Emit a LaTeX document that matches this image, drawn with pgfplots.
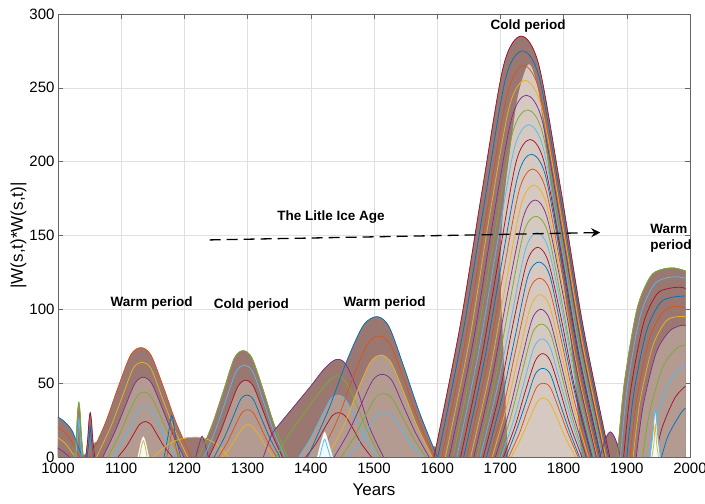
\documentclass[border=0pt]{standalone}
\usepackage{fontspec}
\setmainfont{Liberation Sans}
\usepackage{pgfplots}
\pgfplotsset{compat=1.18}
\usetikzlibrary{arrows.meta}

\definecolor{cA}{RGB}{0,114,189}
\definecolor{cB}{RGB}{217,83,25}
\definecolor{cC}{RGB}{237,177,32}
\definecolor{cD}{RGB}{126,47,142}
\definecolor{cE}{RGB}{119,172,48}
\definecolor{cF}{RGB}{77,190,238}
\definecolor{cG}{RGB}{162,20,47}
\definecolor{dkc}{RGB}{154,120,113}
\definecolor{mdc}{RGB}{180,155,146}
\definecolor{ltc}{RGB}{214,201,194}

\pgfplotsset{
  ln/.style={smooth, line width=0.75pt},
  dk/.style={smooth, fill=dkc, draw=dkc, line width=0.6pt},
  md/.style={smooth, fill=mdc, draw=none},
  lt/.style={smooth, fill=ltc, draw=none},
  wt/.style={smooth, fill=white!92!cF, draw=none},
}

\begin{document}
\begin{tikzpicture}
\begin{axis}[
  scale only axis, width=632pt, height=443pt,
  xmin=1000, xmax=2000, ymin=0, ymax=300,
  xtick={1000,1100,...,2000}, ytick={0,50,...,300},
  /pgf/number format/1000 sep={},
  /pgf/number format/assume math mode=true,
  grid=major, major grid style={black!12, line width=0.5pt},
  axis line style={black!60, line width=0.8pt},
  tick style={black!60, line width=0.6pt}, major tick length=5pt, tick align=inside,
  tick label style={font=\fontsize{15}{15}\selectfont},
  xticklabel shift=3pt,
  label style={font=\fontsize{17}{17}\selectfont},
  xlabel={Years}, ylabel={|W(s,t)*W(s,t)|},
  xlabel shift=3pt, ylabel shift=-4pt,
  clip mode=individual,
]
% ---- dark envelopes
\addplot[dk] coordinates {(1000,8)(1020,6)(1036,1)(1044,2)(1060,10)(1100,13)(1150,13)(1200,12)(1240,11)(1270,7)(1300,6)(1340,14)(1380,12)(1420,6)(1480,5)(1560,5)(1595,7)(1640,3)(1760,3)(1850,6)(1875,14)(1890,7)(1920,4)(1993,4)} \closedcycle;
\addplot[dk] coordinates {(1000,27)(1010,24)(1022,18)(1031,8)(1039,0)} \closedcycle;
\addplot[dk] coordinates {(1026,0)(1029,15)(1031,30)(1033,37)(1035,30)(1037,15)(1040,0)} \closedcycle;
\addplot[dk] coordinates {(1044,0)(1047,12)(1049,24)(1051,30)(1053,24)(1055,12)(1058,0)} \closedcycle;
\addplot[dk] coordinates {(1051,0)(1075,23)(1095,47)(1115,69)(1131,74)(1147,69)(1167,47)(1187,23)(1211,0)} \closedcycle;
\addplot[dk] coordinates {(1168,0)(1174,14)(1180,28)(1186,14)(1194,0)} \closedcycle;
\addplot[dk] coordinates {(1150,0)(1180,10)(1205,13)(1228,13)(1250,9)(1270,0)} \closedcycle;
\addplot[dk] coordinates {(1218,0)(1223,8)(1228,14)(1233,8)(1238,0)} \closedcycle;
\addplot[dk] coordinates {(1223,0)(1244,22)(1262,45)(1279,67)(1293,72)(1307,67)(1325,45)(1342,22)(1363,0)} \closedcycle;
\addplot[dk] coordinates {(1325,0)(1338,15)(1350,22)(1375,35)(1400,48)(1422,60)(1440,66)(1455,63)(1474,45)(1493,20)(1515,0)} \closedcycle;
\addplot[dk] coordinates {(1395,0)(1428,32)(1456,64)(1483,89)(1505,95)(1524,88)(1548,60)(1572,30)(1600,0)} \closedcycle;
\addplot[dk] coordinates {(1595,0)(1636,88)(1671,180)(1705,265)(1733,285)(1761,265)(1796,180)(1831,88)(1873,0)} \closedcycle;
\addplot[dk] coordinates {(1858,0)(1866,12)(1874,17)(1882,12)(1890,0)} \closedcycle;
\addplot[dk] coordinates {(1885,0)(1896,50)(1916,100)(1937,122)(1955,127)(1975,128)(1993,126)} \closedcycle;
% ---- lighter interiors
\addplot[md] coordinates {(1071,0)(1090,17)(1106,34)(1122,50)(1135,54)(1148,50)(1164,34)(1180,17)(1199,0)} \closedcycle;
\addplot[md] coordinates {(1239,0)(1256,16)(1271,33)(1285,48)(1297,52)(1309,48)(1323,33)(1338,16)(1355,0)} \closedcycle;
\addplot[md] coordinates {(1381,0)(1400,13)(1415,26)(1431,39)(1443,42)(1455,39)(1471,26)(1486,13)(1505,0)} \closedcycle;
\addplot[md] coordinates {(1426,0)(1452,21)(1473,44)(1494,64)(1511,69)(1527,64)(1547,44)(1568,21)(1592,0)} \closedcycle;
\addplot[md] coordinates {(1915,0)(1926,35)(1946,70)(1967,85)(1985,89)(1993,89)} \closedcycle;
\addplot[lt] coordinates {(1712,0)(1706,60)(1700,130)(1706,175)(1716,210)(1728,245)(1745,266)(1760,248)(1772,210)(1786,160)(1805,100)(1818,50)(1828,0)} \closedcycle;
% ---- curves, 1000-1060
\addplot[ln,cA] coordinates {(1000,27)(1010,24)(1022,18)(1031,8)(1039,0)};
\addplot[ln,cB] coordinates {(1000,20)(1012,16)(1024,9)(1034,0)};
\addplot[ln,cC] coordinates {(1000,13)(1012,9)(1022,3)(1028,0)};
\addplot[ln,cD] coordinates {(1000,6)(1010,3)(1018,0)};
\addplot[ln,cE] coordinates {(1026,0)(1029,15)(1031,30)(1033,37)(1035,30)(1037,15)(1040,0)};
\addplot[ln,cF] coordinates {(1028,0)(1031,14)(1033,26)(1035,14)(1038,0)};
\addplot[ln,cG] coordinates {(1044,0)(1047,12)(1049,24)(1051,30)(1053,24)(1055,12)(1058,0)};
\addplot[ln,cA] coordinates {(1046,0)(1049,11)(1051,21)(1053,11)(1056,0)};
% ---- warm period 1130
\addplot[ln,cB] coordinates {(1051,0)(1075,23)(1095,47)(1115,69)(1131,74)(1147,69)(1167,47)(1187,23)(1211,0)};
\addplot[ln,cC] coordinates {(1061,0)(1083,20)(1101,40)(1119,60)(1133,64)(1147,60)(1165,40)(1183,20)(1205,0)};
\addplot[ln,cD] coordinates {(1071,0)(1090,17)(1106,34)(1122,50)(1135,54)(1148,50)(1164,34)(1180,17)(1199,0)};
\addplot[ln,cE] coordinates {(1079,0)(1096,14)(1110,28)(1125,41)(1136,44)(1147,41)(1162,28)(1176,14)(1193,0)};
\addplot[ln,cF] coordinates {(1087,0)(1102,11)(1115,21)(1127,32)(1137,34)(1147,32)(1160,21)(1172,11)(1187,0)};
\addplot[ln,cG] coordinates {(1095,0)(1108,7)(1119,15)(1129,22)(1138,24)(1147,22)(1157,15)(1168,7)(1181,0)};
\addplot[ln,cA] coordinates {(1168,0)(1174,14)(1180,28)(1186,14)(1194,0)};
\addplot[ln,cB] coordinates {(1172,0)(1177,10)(1181,19)(1185,10)(1190,0)};
\addplot[ln,cC] coordinates {(1150,0)(1180,10)(1205,13)(1228,13)(1250,9)(1270,0)};
\addplot[ln,cD] coordinates {(1218,0)(1223,8)(1228,14)(1233,8)(1238,0)};
% ---- cold period 1290
\addplot[ln,cE] coordinates {(1223,0)(1244,22)(1262,45)(1279,67)(1293,72)(1307,67)(1325,45)(1342,22)(1363,0)};
\addplot[ln,cF] coordinates {(1231,0)(1250,19)(1266,39)(1282,58)(1295,62)(1308,58)(1324,39)(1340,19)(1359,0)};
\addplot[ln,cG] coordinates {(1239,0)(1256,16)(1271,33)(1285,48)(1297,52)(1309,48)(1323,33)(1338,16)(1355,0)};
\addplot[ln,cA] coordinates {(1247,0)(1263,13)(1276,26)(1289,39)(1299,42)(1309,39)(1322,26)(1335,13)(1351,0)};
\addplot[ln,cB] coordinates {(1254,0)(1268,10)(1279,20)(1291,30)(1300,32)(1309,30)(1321,20)(1332,10)(1346,0)};
\addplot[ln,cC] coordinates {(1261,0)(1273,7)(1283,14)(1293,20)(1301,22)(1309,20)(1319,14)(1329,7)(1341,0)};
% ---- shoulder 1440
\addplot[ln,cD] coordinates {(1325,0)(1338,15)(1350,22)(1375,35)(1400,48)(1422,60)(1440,66)(1455,63)(1474,45)(1493,20)(1515,0)};
\addplot[ln,cE] coordinates {(1345,0)(1365,15)(1390,30)(1412,43)(1430,52)(1443,55)(1457,50)(1474,34)(1490,17)(1510,0)};
\addplot[ln,cF] coordinates {(1381,0)(1400,13)(1415,26)(1431,39)(1443,42)(1455,39)(1471,26)(1486,13)(1505,0)};
\addplot[ln,cG] coordinates {(1392,0)(1408,9)(1421,19)(1434,28)(1444,30)(1454,28)(1467,19)(1480,9)(1496,0)};
% ---- warm period 1505
\addplot[ln,cA] coordinates {(1395,0)(1428,32)(1456,64)(1483,89)(1505,95)(1524,88)(1548,60)(1572,30)(1600,0)};
\addplot[ln,cB] coordinates {(1413,0)(1442,25)(1465,52)(1489,76)(1508,82)(1526,76)(1548,52)(1570,25)(1596,0)};
\addplot[ln,cC] coordinates {(1426,0)(1452,21)(1473,44)(1494,64)(1511,69)(1527,64)(1547,44)(1568,21)(1592,0)};
\addplot[ln,cD] coordinates {(1437,0)(1460,17)(1479,35)(1498,52)(1513,56)(1528,52)(1546,35)(1565,17)(1587,0)};
\addplot[ln,cE] coordinates {(1448,0)(1468,13)(1485,27)(1502,40)(1515,43)(1528,40)(1545,27)(1562,13)(1582,0)};
\addplot[ln,cF] coordinates {(1458,0)(1475,9)(1490,19)(1504,28)(1516,30)(1528,28)(1543,19)(1558,9)(1576,0)};
% ---- cold period 1735
\addplot[ln,cG] coordinates {(1595,0)(1636,88)(1671,180)(1705,265)(1733,285)(1761,265)(1796,180)(1831,88)(1873,0)};
\addplot[ln,cA] coordinates {(1601,0)(1641,85)(1675,173)(1708,256)(1735,275)(1762,256)(1796,173)(1830,85)(1871,0)};
\addplot[ln,cB] coordinates {(1607,0)(1646,82)(1679,167)(1711,246)(1737,265)(1763,246)(1796,167)(1829,82)(1869,0)};
\addplot[ln,cC] coordinates {(1613,0)(1651,79)(1682,161)(1714,237)(1739,255)(1765,237)(1797,161)(1829,79)(1867,0)};
\addplot[ln,cD] coordinates {(1619,0)(1656,76)(1686,154)(1717,228)(1741,245)(1766,228)(1797,154)(1828,76)(1865,0)};
\addplot[ln,cE] coordinates {(1625,0)(1660,73)(1690,148)(1719,219)(1743,235)(1767,219)(1797,148)(1827,73)(1863,0)};
\addplot[ln,cF] coordinates {(1631,0)(1665,70)(1694,142)(1722,209)(1745,225)(1768,209)(1797,142)(1826,70)(1861,0)};
\addplot[ln,cG] coordinates {(1637,0)(1670,67)(1698,136)(1725,200)(1747,215)(1769,200)(1797,136)(1825,67)(1859,0)};
\addplot[ln,cA] coordinates {(1642,0)(1674,64)(1701,129)(1728,191)(1749,205)(1771,191)(1798,129)(1825,64)(1857,0)};
\addplot[ln,cB] coordinates {(1647,0)(1678,61)(1704,123)(1730,181)(1751,195)(1772,181)(1798,123)(1824,61)(1855,0)};
\addplot[ln,cC] coordinates {(1653,0)(1683,57)(1708,116)(1733,171)(1753,184)(1773,171)(1798,116)(1823,57)(1853,0)};
\addplot[ln,cD] coordinates {(1658,0)(1687,54)(1711,110)(1736,162)(1755,174)(1774,162)(1799,110)(1823,54)(1852,0)};
\addplot[ln,cE] coordinates {(1663,0)(1691,51)(1714,103)(1737,152)(1756,163)(1775,152)(1798,103)(1821,51)(1849,0)};
\addplot[ln,cF] coordinates {(1668,0)(1695,47)(1718,96)(1740,141)(1758,152)(1776,141)(1799,96)(1821,47)(1848,0)};
\addplot[ln,cG] coordinates {(1673,0)(1699,44)(1720,90)(1742,132)(1759,142)(1776,132)(1798,90)(1819,44)(1845,0)};
\addplot[ln,cA] coordinates {(1678,0)(1703,41)(1724,83)(1744,123)(1761,132)(1778,123)(1798,83)(1819,41)(1844,0)};
\addplot[ln,cB] coordinates {(1683,0)(1707,38)(1726,76)(1746,113)(1762,121)(1778,113)(1798,76)(1817,38)(1841,0)};
\addplot[ln,cC] coordinates {(1687,0)(1710,34)(1729,69)(1748,102)(1763,110)(1778,102)(1797,69)(1816,34)(1839,0)};
\addplot[ln,cD] coordinates {(1692,0)(1714,31)(1732,63)(1750,93)(1764,100)(1778,93)(1796,63)(1814,31)(1836,0)};
\addplot[ln,cE] coordinates {(1697,0)(1717,28)(1734,57)(1751,84)(1765,90)(1779,84)(1796,57)(1813,28)(1833,0)};
\addplot[ln,cF] coordinates {(1701,0)(1721,25)(1737,50)(1753,74)(1766,80)(1779,74)(1795,50)(1812,25)(1831,0)};
\addplot[ln,cG] coordinates {(1705,0)(1724,22)(1739,44)(1755,65)(1767,70)(1779,65)(1795,44)(1810,22)(1829,0)};
\addplot[ln,cA] coordinates {(1709,0)(1726,19)(1741,38)(1755,56)(1767,60)(1779,56)(1793,38)(1808,19)(1825,0)};
\addplot[ln,cB] coordinates {(1713,0)(1730,16)(1743,32)(1757,47)(1768,50)(1779,47)(1793,32)(1807,16)(1823,0)};
\addplot[ln,cC] coordinates {(1717,0)(1732,12)(1745,25)(1758,37)(1768,40)(1778,37)(1791,25)(1804,12)(1819,0)};
\addplot[ln,cD] coordinates {(1858,0)(1866,12)(1874,17)(1882,12)(1890,0)};
% ---- warm period 1980
\addplot[ln,cE] coordinates {(1885,0)(1896,50)(1916,100)(1937,122)(1955,127)(1975,128)(1993,126)};
\addplot[ln,cF] coordinates {(1890,0)(1901,48)(1921,95)(1942,116)(1960,121)(1980,122)(1993,121)};
\addplot[ln,cG] coordinates {(1895,0)(1906,45)(1926,90)(1947,110)(1965,114)(1985,115)(1993,114)};
\addplot[ln,cA] coordinates {(1900,0)(1911,43)(1931,85)(1952,104)(1970,108)(1990,109)(1993,109)};
\addplot[ln,cB] coordinates {(1905,0)(1916,40)(1936,80)(1957,98)(1975,102)(1993,101)};
\addplot[ln,cC] coordinates {(1910,0)(1921,38)(1941,75)(1962,92)(1980,95)(1993,95)};
\addplot[ln,cD] coordinates {(1915,0)(1926,35)(1946,70)(1967,85)(1985,89)(1993,89)};
\addplot[ln,cE] coordinates {(1925,0)(1936,30)(1956,60)(1977,73)(1993,76)};
\addplot[ln,cF] coordinates {(1935,0)(1946,25)(1966,50)(1987,61)(1993,62)};
\addplot[ln,cG] coordinates {(1945,0)(1956,20)(1976,40)(1993,48)};
\addplot[ln,cA] coordinates {(1955,0)(1966,15)(1986,30)(1993,33)};
% ---- pale spikes
\addplot[wt] coordinates {(1937,0)(1941,14)(1945,32)(1949,14)(1953,0)} \closedcycle;
\addplot[ln,cF] coordinates {(1937,0)(1941,14)(1945,32)(1949,14)(1953,0)};
\addplot[ln,cC] coordinates {(1940,0)(1943,10)(1945,22)(1947,10)(1950,0)};
\addplot[wt] coordinates {(1126,0)(1131,10)(1135,14)(1139,10)(1144,0)} \closedcycle;
\addplot[ln,cC] coordinates {(1129,0)(1132,7)(1135,11)(1138,7)(1141,0)};
\addplot[wt] coordinates {(1410,0)(1416,10)(1422,17)(1428,10)(1435,0)} \closedcycle;
\addplot[ln,cF] coordinates {(1414,0)(1418,7)(1422,12)(1426,7)(1431,0)};
% ---- annotations
\draw[line width=1.3pt, dash pattern=on 11pt off 6pt, -{Stealth[length=9pt,width=9pt,inset=3pt]}]
  (axis cs:1240,147) -- (axis cs:1858,152);
\begin{scope}[every node/.style={font=\fontsize{13.5}{16}\selectfont\bfseries}]
\node at (axis cs:1148,104) {Warm period};
\node at (axis cs:1306,103) {Cold period};
\node at (axis cs:1517,104) {Warm period};
\node at (axis cs:1744,292) {Cold period};
\node at (axis cs:1432,162.5) {The Litle Ice Age};
\node[anchor=west, align=left, inner sep=0pt] at (axis cs:1937,148) {Warm\\period};
\end{scope}
\end{axis}
\pgfresetboundingbox
\useasboundingbox ([shift={(-58pt,-47pt)}]current axis.south west) rectangle ([shift={(15pt,14pt)}]current axis.north east);
\end{tikzpicture}
\end{document}
